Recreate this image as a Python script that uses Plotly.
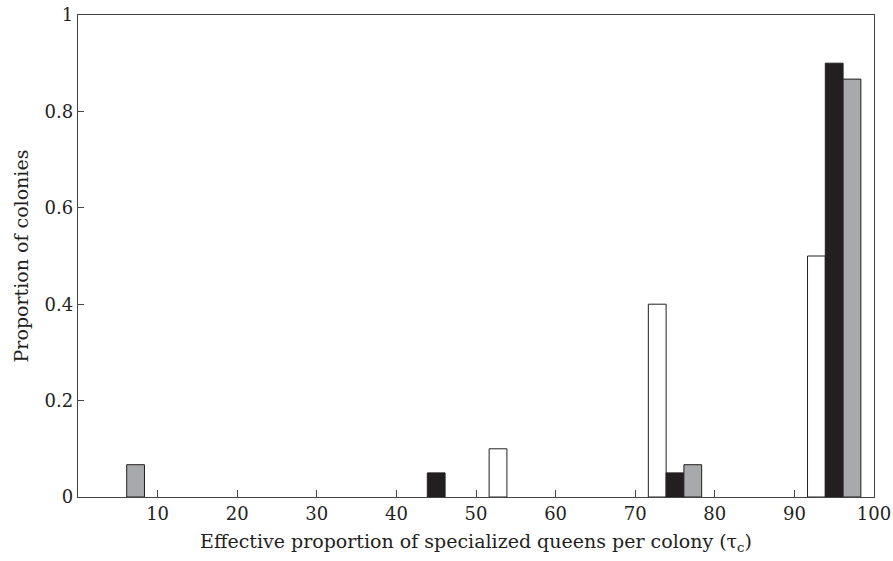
import plotly.graph_objects as go

# Data (bin centres of τc, proportion of colonies)
white_x = [55, 75, 95]
white_y = [0.1, 0.4, 0.5]
black_x = [45, 75, 95]
black_y = [0.05, 0.05, 0.9]
gray_x = [5, 75, 95]
gray_y = [0.067, 0.067, 0.867]

x_ticks = [10, 20, 30, 40, 50, 60, 70, 80, 90, 100]
y_ticks = [0, 0.2, 0.4, 0.6, 0.8, 1]
y_ticktext = ["0", "0.2", "0.4", "0.6", "0.8", "1"]

edge = "#231f20"
fam = "DejaVu Serif, Liberation Serif, serif"
tick_font = dict(family=fam, size=18, color="#231f20")
title_font = dict(family=fam, size=19, color="#231f20")

fig = go.Figure()
fig.add_trace(go.Bar(x=white_x, y=white_y, marker=dict(color="white", line=dict(color=edge, width=1)), showlegend=False))
fig.add_trace(go.Bar(x=black_x, y=black_y, marker=dict(color=edge, line=dict(color=edge, width=1)), showlegend=False))
fig.add_trace(go.Bar(x=gray_x, y=gray_y, marker=dict(color="#a7a9ac", line=dict(color=edge, width=1)), showlegend=False))

fig.update_layout(
    width=893, height=561,
    margin=dict(l=78, r=19, t=15, b=64),
    plot_bgcolor="white", paper_bgcolor="white",
    barmode="group", bargap=0.33, bargroupgap=0,
    font=tick_font,
)
fig.update_xaxes(
    range=[0, 100], tickvals=x_ticks, ticks="inside", ticklen=7, tickcolor="#444",
    showline=True, linecolor="#444", linewidth=1.3, mirror=True, showgrid=False, zeroline=False,
    automargin=False,
    title=dict(text="Effective proportion of specialized queens per colony (τ<sub>c</sub>)", standoff=11, font=title_font),
    tickfont=tick_font,
)
fig.update_yaxes(
    range=[0, 1], tickvals=y_ticks, ticktext=y_ticktext, ticks="inside", ticklen=6, tickcolor="#444",
    showline=True, linecolor="#444", linewidth=1.3, mirror=True, showgrid=False, zeroline=False,
    automargin=False,
    title=dict(text="Proportion of colonies", standoff=10, font=title_font),
    tickfont=tick_font,
)

fig.write_html(
    "out.html",
    config={"displayModeBar": False},
    post_script="document.body.style.margin='0';document.body.style.overflow='hidden';",
)
